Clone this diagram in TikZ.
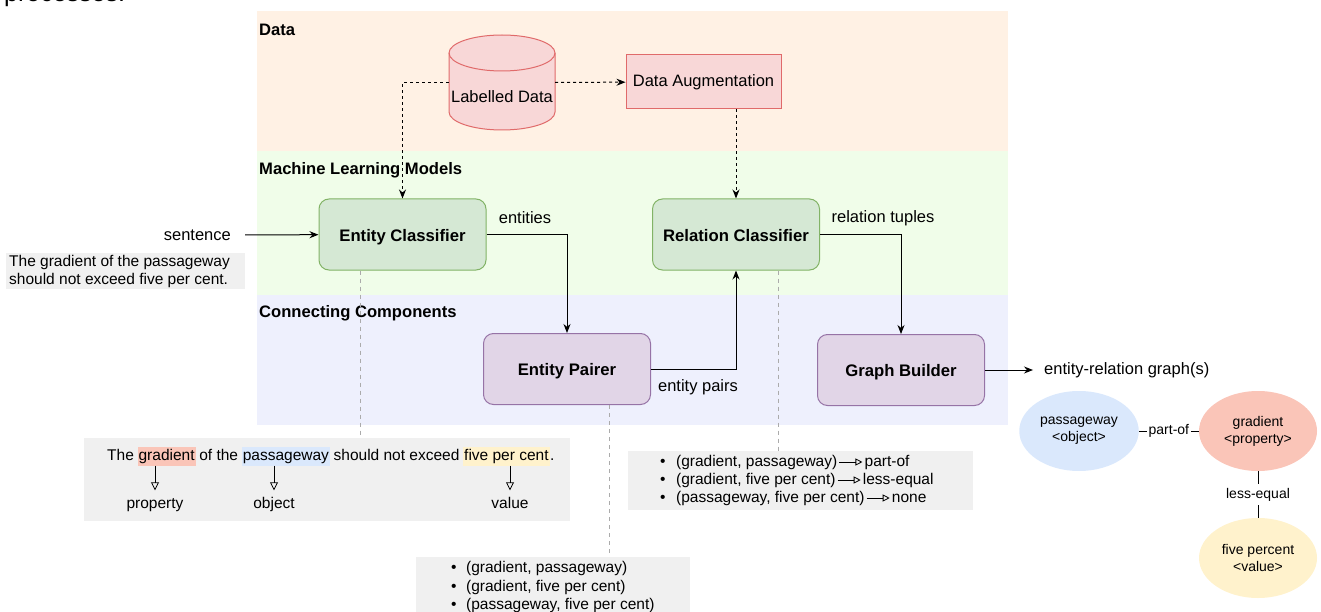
\documentclass[tikz,border=0pt]{standalone}
\usepackage{fontspec}
\setmainfont{Liberation Sans}
\usepackage{tikz}
\usetikzlibrary{positioning,arrows.meta,calc,shapes.geometric}

\definecolor{bandpeach}{HTML}{FFF1E4}
\definecolor{bandgreen}{HTML}{F0FDE9}
\definecolor{bandblue}{HTML}{EEF0FD}
\definecolor{datafill}{HTML}{F8D7D7}
\definecolor{dataline}{HTML}{E06A6A}
\definecolor{mlfill}{HTML}{D5E8D4}
\definecolor{mlline}{HTML}{82B366}
\definecolor{ccfill}{HTML}{E1D5E7}
\definecolor{ccline}{HTML}{9673A6}
\definecolor{notegray}{HTML}{F0F0F0}
\definecolor{guidegray}{HTML}{ABABAB}
\definecolor{propred}{HTML}{FAC5B8}
\definecolor{objblue}{HTML}{DAE8FC}
\definecolor{valyellow}{HTML}{FFF2CC}

\begin{document}
\begin{tikzpicture}[x=1pt,y=-1pt,
  lbl/.style={inner sep=0, font=\fontsize{16.5}{19}\selectfont},
  smalltxt/.style={inner sep=0, font=\fontsize{15.5}{18}\selectfont},
  listtxt/.style={smalltxt, text height=11.5pt, text depth=3.5pt},
  tinytxt/.style={inner sep=0, font=\fontsize{14}{17}\selectfont},
  bandtitle/.style={anchor=west, inner sep=0, font=\fontsize{16.6}{19}\selectfont\bfseries},
  mlbox/.style={draw=mlline, fill=mlfill, line width=1pt, rounded corners=10pt, minimum width=167pt, minimum height=71pt, text height=14pt, text depth=1pt, font=\fontsize{16.7}{19}\selectfont\bfseries},
  ccbox/.style={mlbox, draw=ccline, fill=ccfill},
  note/.style={fill=notegray, inner sep=0},
  arr/.style={-{Stealth[length=9pt,width=7pt]}, line width=1pt},
  darr/.style={arr, dash pattern=on 3pt off 3pt},
  guide/.style={draw=guidegray, dash pattern=on 4pt off 4pt, line width=0.8pt},
  hollow/.style={-{Triangle[open,length=8pt,width=8pt]}, line width=0.8pt},
  hollowsm/.style={-{Triangle[open,length=7pt,width=7pt]}, line width=0.8pt, shorten <=2pt, shorten >=2pt},
  word/.style={smalltxt, inner xsep=1pt, inner ysep=2pt, text height=11.5pt, text depth=3.5pt},
  ent/.style={ellipse, minimum width=118pt, minimum height=80pt, align=center, font=\fontsize{14}{17}\selectfont}
]
\useasboundingbox (0,0) rectangle (1321,612);
\clip (0,0) rectangle (1321,612);

% caption cut off by the crop
\node[anchor=base west, inner sep=0, font=\fontsize{25}{30}\selectfont] (cap) at (4,2) {processes.};

% Bands
\fill[bandpeach] (257,11) rectangle (1008,151);
\fill[bandgreen] (257,151) rectangle (1008,295);
\fill[bandblue] (257,295) rectangle (1008,425);
\node[bandtitle] (tdata) at (259,30) {Data};
\node[bandtitle] (tml) at (259,170) {Machine Learning Models};
\node[bandtitle] (tcc) at (259,313) {Connecting Components};

% Data
\filldraw[draw=dataline, fill=datafill, line width=1pt] (449,53) -- (449,112)
  arc[start angle=180, end angle=0, x radius=53, y radius=18] -- (555,53)
  arc[start angle=0, end angle=-180, x radius=53, y radius=18] -- cycle;
\draw[dataline, line width=1pt] (449,53) arc[start angle=180, end angle=0, x radius=53, y radius=18];
\node[minimum width=106pt, minimum height=95pt, inner sep=0] (ldata) at (502,82.5) {};
\node[lbl] (ldtext) at (502,97) {Labelled Data};
\node[lbl, draw=dataline, fill=datafill, line width=1pt, minimum width=155pt, minimum height=54pt] (daug) at (703.5,82) {Data Augmentation};

% Models and components
\node[mlbox] (ec) at (402.5,234.5) {Entity Classifier};
\node[mlbox] (rc) at (736,234.5) {Relation Classifier};
\node[ccbox] (ep) at (567,369) {Entity Pairer};
\node[ccbox] (gb) at (901,370) {Graph Builder};

% Input sentence
\node[lbl, anchor=east] (sent) at (231,235) {sentence};
\node[note, minimum width=239pt, minimum height=36pt] (lbox) at (125.5,271) {};
\node[smalltxt, anchor=west, align=left] (ltext) at (9,271) {The gradient of the passageway\\should not exceed five per cent.};

% Flow
\draw[arr, shorten <=14pt] (sent) -- (ec);
\draw[darr] (ldata) -- (daug);
\draw[darr] (ldata.west) -| (ec);
\draw[darr] (daug.south -| rc.north) -- (rc.north);
\draw[arr] (ec) -| (ep);
\draw[arr] (ep) -| (rc);
\draw[arr] (rc) -| (gb);
\node[lbl] (lent) at (525,218) {entities};
\node[lbl] (lpairs) at (698,387) {entity pairs};
\node[lbl] (ltup) at (883,218) {relation tuples};

% Output
\node[lbl, anchor=west] (erg) at (1044,370) {entity-relation graph(s)};
\draw[arr, shorten >=11pt] (gb) -- (erg);

% Graph
\node[ent, fill=objblue] (pw) at (1079,431) {passageway\\<object>};
\node[ent, fill=propred] (gr) at (1258,431) {gradient\\<property>};
\node[ent, fill=valyellow] (fp) at (1258,558) {five percent\\<value>};
\draw[line width=0.9pt] (pw) -- node[tinytxt, fill=white, inner xsep=1.5pt, inner ysep=2pt] (rpart) {part-of} (gr);
\draw[line width=0.9pt] (gr) -- node[tinytxt, fill=white, inner xsep=1pt, inner ysep=4pt] (rless) {less-equal} (fp);

% Example notes
\node[note, minimum width=486pt, minimum height=83pt] (sbox) at (327,479.5) {};
\node[note, minimum width=345pt, minimum height=59pt] (rbox) at (800.5,480.5) {};
\node[note, minimum width=274pt, minimum height=70pt] (pbox) at (553,592) {};

% Guides
\coordinate (ecfoot) at ($(ec.south west)!0.25!(ec.south east)$);
\coordinate (epfoot) at ($(ep.south west)!0.755!(ep.south east)$);
\coordinate (rcfoot) at ($(rc.south west)!0.75!(rc.south east)$);
\draw[guide] (ecfoot) -- (ecfoot |- sbox.north);
\draw[guide] (epfoot) -- (epfoot |- pbox.north);
\draw[guide] (rcfoot) -- (rcfoot |- rbox.north);

% Tagged sentence
\node[word, anchor=west] (w1) at (106,456) {The};
\node[word, fill=propred, right=2.3pt of w1] (hgrad) {gradient};
\node[word, right=2.3pt of hgrad] (w2) {of the};
\node[word, fill=objblue, right=2.3pt of w2] (hpass) {passageway};
\node[word, right=2.3pt of hpass] (w3) {should not exceed};
\node[word, fill=valyellow, right=2.3pt of w3] (hval) {five per cent};
\node[word, right=-1pt of hval] (w4) {.};
\node[listtxt] (tprop) at (155,504) {property};
\node[listtxt] (tobj) at (274,504) {object};
\node[listtxt] (tval) at (510,504) {value};
\draw[hollow, shorten >=6pt] (hgrad.south -| tprop) -- (tprop);
\draw[hollow, shorten >=6pt] (hpass.south -| tobj) -- (tobj);
\draw[hollow, shorten >=6pt] (hval.south -| tval) -- (tval);

% Relation tuples
\node[listtxt, anchor=west] (r1) at (660,462) {\textbullet\hspace{10.5pt}(gradient, passageway)};
\node[listtxt, right=27pt of r1] (r1lab) {part-of};
\node[listtxt, anchor=west] (r2) at (660,480) {\textbullet\hspace{10.5pt}(gradient, five per cent)};
\node[listtxt, right=27pt of r2] (r2lab) {less-equal};
\node[listtxt, anchor=west] (r3) at (660,498) {\textbullet\hspace{10.5pt}(passageway, five per cent)};
\node[listtxt, right=27pt of r3] (r3lab) {none};
\draw[hollowsm] (r1) -- (r1lab);
\draw[hollowsm] (r2) -- (r2lab);
\draw[hollowsm] (r3) -- (r3lab);

% Entity pairs
\node[listtxt, anchor=west] (p1) at (451,568) {\textbullet\hspace{9.5pt}(gradient, passageway)};
\node[listtxt, anchor=west] (p2) at (451,587) {\textbullet\hspace{9.5pt}(gradient, five per cent)};
\node[listtxt, anchor=west] (p3) at (451,605) {\textbullet\hspace{9.5pt}(passageway, five per cent)};
\end{tikzpicture}
\end{document}
